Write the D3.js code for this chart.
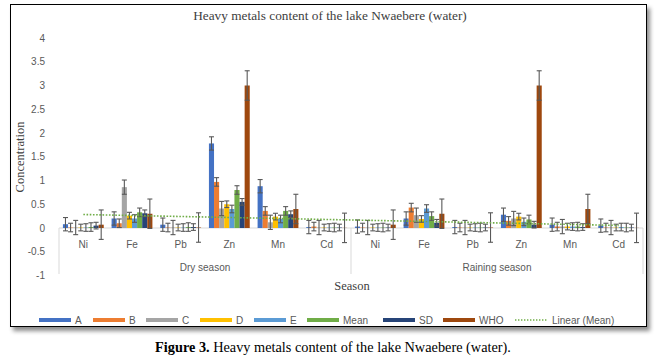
<!DOCTYPE html>
<html>
<head>
<meta charset="utf-8">
<script src="https://cdn.jsdelivr.net/npm/d3@7"></script>
<style>
	body { margin: 0; background: #fff; }
	.tick text { font-family: "Liberation Sans", Arial, sans-serif; font-size: 10px; fill: #595959; }
	.serif { font-family: "Liberation Serif", "Times New Roman", serif; }
	.lbl { font-family: "Liberation Sans", Arial, sans-serif; font-size: 10px; fill: #595959; }
</style>
</head>
<body>
<script>
// categories
var seasons = ['Dry season', 'Raining season'];
var metals = ['Ni', 'Fe', 'Pb', 'Zn', 'Mn', 'Cd'];
var seriesNames = ['A', 'B', 'C', 'D', 'E', 'Mean', 'SD', 'WHO'];
var yTicks = [-1, -0.5, 0, 0.5, 1, 1.5, 2, 2.5, 3, 3.5, 4];

// values: dry season Ni..Cd, then raining season Ni..Cd
var seriesA    = [0.08, 0.2, 0.07, 1.78, 0.88, 0.02,   0.03, 0.2, 0.02, 0.28, 0.07, 0.05];
var seriesB    = [0.01, 0.1, 0.01, 0.97, 0.36, 0.03,   0.01, 0.43, 0.01, 0.15, 0.03, 0.01];
var seriesC    = [0.01, 0.86, 0.01, 0.41, 0.12, 0.01,  0.01, 0.27, 0.01, 0.2, 0.03, 0.01];
var seriesD    = [0.01, 0.26, 0.01, 0.5, 0.24, 0.01,   0.01, 0.19, 0.01, 0.24, 0.03, 0.01];
var seriesE    = [0.01, 0.2, 0.01, 0.4, 0.19, 0.01,    0.01, 0.41, 0.01, 0.13, 0.03, 0.02];
var seriesMean = [0.02, 0.33, 0.02, 0.8, 0.36, 0.01,   0.01, 0.25, 0.01, 0.18, 0.03, 0.01];
var seriesSD   = [0.05, 0.31, 0.02, 0.55, 0.29, 0.01,  0.01, 0.11, 0.01, 0.07, 0.02, 0.01];
var seriesWHO  = [0.07, 0.3, 0.01, 3, 0.4, 0.003,      0.07, 0.3, 0.01, 3, 0.4, 0.003];
// standard error amount of each series
var seriesError = [0.14, 0.09, 0.15, 0.07, 0.08, 0.09, 0.07, 0.31];

var seriesValues = [seriesA, seriesB, seriesC, seriesD, seriesE, seriesMean, seriesSD, seriesWHO];
var colors = ['#4472C4', '#ED7D31', '#A5A5A5', '#FFC000', '#5B9BD5', '#70AD47', '#264478', '#9E480E'];

var width = 661, height = 361;
var plotLeft = 59, plotRight = 643, plotTop = 38, plotBottom = 275.5;

var svg = d3.select('body').append('svg')
	.attr('width', width)
	.attr('height', height);

var defs = svg.append('defs');
var f = defs.append('filter').attr('id', 'shadow').attr('x', '-5%').attr('y', '-5%').attr('width', '110%').attr('height', '115%');
f.append('feDropShadow').attr('dx', 3).attr('dy', 4).attr('stdDeviation', 2).attr('flood-color', '#000').attr('flood-opacity', 0.45);

// frame
svg.append('rect')
	.attr('x', 10.5).attr('y', 4.5)
	.attr('width', 636).attr('height', 322)
	.attr('fill', '#fff')
	.attr('stroke', '#000')
	.attr('stroke-width', 1)
	.attr('filter', 'url(#shadow)');

var cats = d3.range(seasons.length * metals.length);

var x0 = d3.scaleBand().domain(cats).range([plotLeft, plotRight]);
var x1 = d3.scaleBand().domain(seriesNames).range([0, x0.bandwidth()]).paddingOuter(0.77);
var y = d3.scaleLinear().domain([-1, 4]).range([plotBottom, plotTop]);

// title
svg.append('text')
	.attr('class', 'serif')
	.attr('x', 330).attr('y', 20)
	.attr('text-anchor', 'middle')
	.attr('font-size', 13.3)
	.attr('fill', '#404040')
	.text('Heavy metals content of the lake Nwaebere (water)');

// y axis
var yAxis = svg.append('g')
	.attr('transform', 'translate(' + plotLeft + ',0)')
	.call(d3.axisLeft(y).tickValues(yTicks).tickSize(0).tickPadding(14).tickFormat(function(d) { return String(d); }));
yAxis.select('.domain').remove();

svg.append('text')
	.attr('class', 'serif')
	.attr('transform', 'translate(24,' + 157 + ') rotate(-90)')
	.attr('text-anchor', 'middle')
	.attr('font-size', 12.5)
	.attr('fill', '#404040')
	.text('Concentration');

// zero line and category separators
svg.append('line')
	.attr('x1', plotLeft).attr('x2', plotRight)
	.attr('y1', y(0)).attr('y2', y(0))
	.attr('stroke', '#d9d9d9').attr('stroke-width', 1);

[0, metals.length, cats.length].forEach(function(i) {
	var xx = i < cats.length ? x0(i) : plotRight;
	svg.append('line')
		.attr('x1', xx).attr('x2', xx)
		.attr('y1', y(0)).attr('y2', 274)
		.attr('stroke', '#d9d9d9').attr('stroke-width', 1);
});

// bars
var groups = svg.selectAll('g.series')
	.data(seriesNames)
	.enter()
	.append('g')
	.attr('class', 'series')
	.attr('fill', function(d, i) { return colors[i]; });

groups.selectAll('rect')
	.data(function(d, i) { return seriesValues[i].map(function(v, j) { return { s: d, v: v, c: j }; }); })
	.enter()
	.append('rect')
	.attr('x', function(d) { return x0(d.c) + x1(d.s); })
	.attr('y', function(d) { return y(Math.max(0, d.v)); })
	.attr('width', x1.bandwidth())
	.attr('height', function(d) { return Math.abs(y(0) - y(d.v)); });

// error bars
var errs = svg.append('g').attr('stroke', '#595959').attr('stroke-width', 1.1).attr('fill', 'none');
seriesNames.forEach(function(s, i) {
	seriesValues[i].forEach(function(v, j) {
		var cx = x0(j) + x1(s) + x1.bandwidth() / 2;
		var e = seriesError[i];
		errs.append('line').attr('x1', cx).attr('x2', cx).attr('y1', y(v - e)).attr('y2', y(v + e));
		errs.append('line').attr('x1', cx - 2.5).attr('x2', cx + 2.5).attr('y1', y(v - e)).attr('y2', y(v - e));
		errs.append('line').attr('x1', cx - 2.5).attr('x2', cx + 2.5).attr('y1', y(v + e)).attr('y2', y(v + e));
	});
});

// linear trendline of Mean
var xs = cats.map(function(c) { return c + 1; });
var mx = d3.mean(xs), my = d3.mean(seriesMean);
var slope = d3.sum(xs, function(xv, i) { return (xv - mx) * (seriesMean[i] - my); }) / d3.sum(xs, function(xv) { return (xv - mx) * (xv - mx); });
var icpt = my - slope * mx;
svg.append('line')
	.attr('x1', x0(0) + x0.bandwidth() / 2)
	.attr('x2', x0(cats.length - 1) + x0.bandwidth() / 2)
	.attr('y1', y(icpt + slope * 1))
	.attr('y2', y(icpt + slope * cats.length))
	.attr('stroke', '#70AD47')
	.attr('stroke-width', 1.6)
	.attr('stroke-dasharray', '1.6,1.6');

// category labels
svg.selectAll('text.cat')
	.data(cats)
	.enter()
	.append('text')
	.attr('class', 'lbl cat')
	.attr('x', function(d) { return x0(d) + x0.bandwidth() / 2; })
	.attr('y', 247.5)
	.attr('text-anchor', 'middle')
	.text(function(d) { return metals[d % metals.length]; });

svg.selectAll('text.season')
	.data(seasons)
	.enter()
	.append('text')
	.attr('class', 'lbl season')
	.attr('x', function(d, i) { return (x0(i * metals.length) + (i === 0 ? x0(metals.length) : plotRight)) / 2; })
	.attr('y', 270.5)
	.attr('text-anchor', 'middle')
	.text(function(d) { return d; });

svg.append('text')
	.attr('class', 'serif')
	.attr('x', 352).attr('y', 290)
	.attr('text-anchor', 'middle')
	.attr('font-size', 12.5)
	.attr('fill', '#404040')
	.text('Season');

// legend
var legendX = [39, 93, 146, 200, 254, 307, 383, 443, 515];
var legend = svg.append('g');
seriesNames.forEach(function(s, i) {
	legend.append('rect')
		.attr('x', legendX[i]).attr('y', 318)
		.attr('width', 32).attr('height', 4)
		.attr('fill', colors[i]);
	legend.append('text')
		.attr('class', 'lbl')
		.attr('x', legendX[i] + 36).attr('y', 323.5)
		.text(s);
});
legend.append('line')
	.attr('x1', legendX[8]).attr('x2', legendX[8] + 32)
	.attr('y1', 320).attr('y2', 320)
	.attr('stroke', '#70AD47').attr('stroke-width', 1.4).attr('stroke-dasharray', '1.4,1.6');
legend.append('text')
	.attr('class', 'lbl')
	.attr('x', legendX[8] + 37).attr('y', 323.5)
	.text('Linear (Mean)');

// caption
var cap = svg.append('text')
	.attr('class', 'serif')
	.attr('x', 333).attr('y', 352)
	.attr('text-anchor', 'middle')
	.attr('font-size', 14.3)
	.attr('fill', '#000');
cap.append('tspan').attr('font-weight', 'bold').text('Figure 3.');
cap.append('tspan').text(' Heavy metals content of the lake Nwaebere (water).');
</script>
</body>
</html>
